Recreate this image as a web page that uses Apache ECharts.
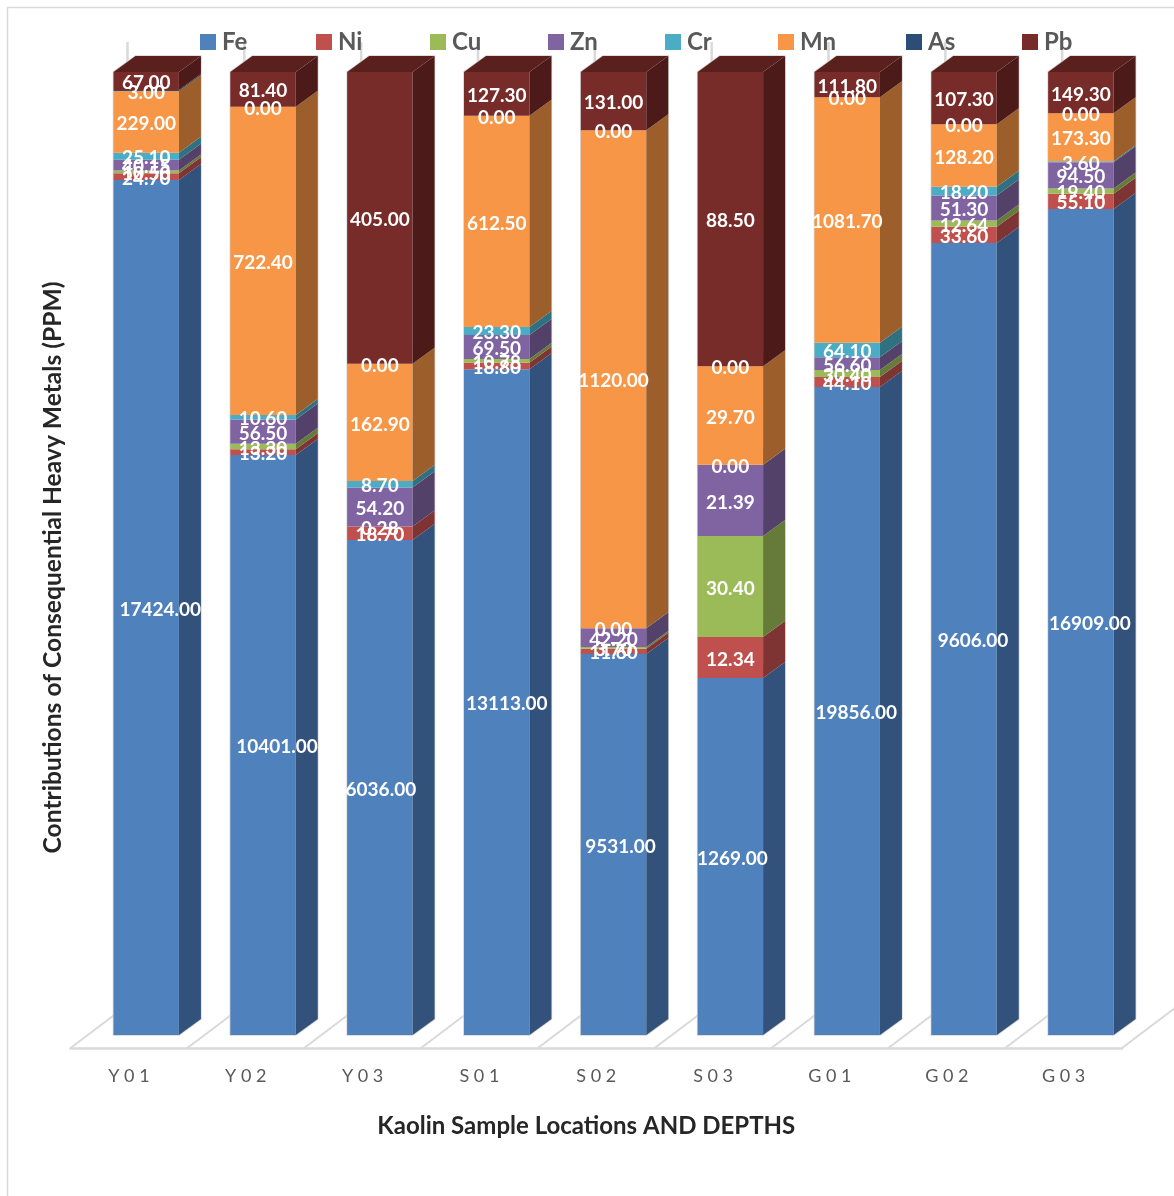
<!DOCTYPE html>
<html>
<head>
<meta charset="utf-8">
<style>html,body{margin:0;padding:0;background:#fff}#chart{width:1174px;height:1196px}</style>
<script src="https://cdn.jsdelivr.net/npm/echarts@6/dist/echarts.min.js"></script>
</head>
<body>
<div id="chart"></div>
<script>
// Kaolin heavy-metal contributions (PPM) per sample location and depth
const categories = ['Y01', 'Y02', 'Y03', 'S01', 'S02', 'S03', 'G01', 'G02', 'G03'];

// Printed Fe figures
const feLabels = [17424, 10401, 6036, 13113, 9531, 1269, 19856, 9606, 16909];
// Fe column heights: the printed Fe figures are not on the column scale, so the
// blue segments use these values and the labels above are shown as text only
const feHeights = [3162, 1359, 687, 1932, 857, 107.4, 2857, 1627, 2986];

const ni = [24.70, 13.20, 18.70, 18.80, 11.60, 12.34, 44.10, 33.60, 55.10];
const cu = [10.50, 13.30, 0.28, 10.78, 3.70, 30.40, 30.40, 12.64, 19.40];
const zn = [40.15, 56.50, 54.20, 69.50, 42.20, 21.39, 56.60, 51.30, 94.50];
const cr = [25.10, 10.60, 8.70, 23.30, 0, 0, 64.10, 18.20, 3.60];
const mn = [229.00, 722.40, 162.90, 612.50, 1120.00, 29.70, 1081.70, 128.20, 173.30];
const as = [3.00, 0, 0, 0, 0, 0, 0, 0, 0];
const pb = [67.00, 81.40, 405.00, 127.30, 131.00, 88.50, 111.80, 107.30, 149.30];

const metals = [
  { name: 'Fe', heights: feHeights, labels: feLabels, front: '#4F81BD', side: '#32527B', legendX: 200 },
  { name: 'Ni', heights: ni, labels: ni, front: '#C0504D', side: '#7D3432', legendX: 316 },
  { name: 'Cu', heights: cu, labels: cu, front: '#9BBB59', side: '#667A3A', legendX: 430 },
  { name: 'Zn', heights: zn, labels: zn, front: '#8064A2', side: '#534169', legendX: 548 },
  { name: 'Cr', heights: cr, labels: cr, front: '#4BACC6', side: '#2F7081', legendX: 665 },
  { name: 'Mn', heights: mn, labels: mn, front: '#F79646', side: '#9C5F2B', legendX: 778 },
  { name: 'As', heights: as, labels: as, front: '#2C4D75', side: '#1D324C', legendX: 906 },
  { name: 'Pb', heights: pb, labels: pb, front: '#772C2A', side: '#4C1A18', legendX: 1022 }
];

// Projection of the box bars
const BAR_RATIO = 0.56;
const BAR_SHIFT = 0.148;
const DEPTH_X = 22;
const DEPTH_Y = 16;
const FLOOR_X = 57;
const FLOOR_Y = 43;
const FLOOR_DROP = 13;
const WALL_TOP = 42;
const TOP_FACE = '#5A201E';
const LINE = '#D9D9D9';
// Sideways nudges of the Fe labels, per column
const feLabelShift = [14, 14, 1, 10, 7, 2, 9, 9, 9];

const totals = categories.map((_, c) => metals.reduce((s, m) => s + m.heights[c], 0));

function stackedData(index) {
  return categories.map((_, c) => {
    let below = 0;
    for (let k = 0; k < index; k++) below += metals[k].heights[c];
    const start = below / totals[c] * 100;
    const end = (below + metals[index].heights[c]) / totals[c] * 100;
    return [c, start, end];
  });
}

function renderSegment(index) {
  const metal = metals[index];
  return function (params, api) {
    const c = api.value(0);
    const band = api.size([1, 0])[0];
    const centre = api.coord([c, 0])[0] + band * BAR_SHIFT;
    const half = band * BAR_RATIO / 2;
    const x0 = centre - half;
    const x1 = centre + half;
    const yBase = api.coord([c, api.value(1)])[1];
    const yTop = api.coord([c, api.value(2)])[1];
    const children = [];
    if (yBase - yTop > 0) {
      children.push({
        type: 'polygon',
        shape: { points: [[x0, yBase], [x1, yBase], [x1, yTop], [x0, yTop]] },
        style: { fill: metal.front }
      });
      children.push({
        type: 'polygon',
        shape: { points: [[x1, yBase], [x1 + DEPTH_X, yBase - DEPTH_Y], [x1 + DEPTH_X, yTop - DEPTH_Y], [x1, yTop]] },
        style: { fill: metal.side }
      });
    }
    if (index === metals.length - 1) {
      children.push({
        type: 'polygon',
        shape: { points: [[x0, yTop], [x1, yTop], [x1 + DEPTH_X, yTop - DEPTH_Y], [x0 + DEPTH_X, yTop - DEPTH_Y]] },
        style: { fill: TOP_FACE }
      });
    }
    children.push({
      type: 'text',
      z2: 100,
      style: {
        x: centre + (index === 0 ? feLabelShift[c] : 0),
        y: (yBase + yTop) / 2 + 2,
        text: metal.labels[c].toFixed(2),
        fill: '#fff',
        font: 'bold 19px Lato',
        align: 'center',
        verticalAlign: 'middle'
      }
    });
    return { type: 'group', children };
  };
}

// Floor dividers, back-wall posts and the pale outline behind each bar
function renderFloor(params, api) {
  const c = api.value(0);
  const band = api.size([1, 0])[0];
  const yBase = api.coord([c, 0])[1];
  const yTop = api.coord([c, 100])[1];
  const yFront = yBase + FLOOR_DROP;
  const left = api.coord([c, 0])[0] - band / 2;
  const edges = c === categories.length - 1 ? [left, left + band] : [left];
  const children = [];
  edges.forEach((x) => {
    children.push({
      type: 'line',
      shape: { x1: x, y1: yFront, x2: x + FLOOR_X, y2: yFront - FLOOR_Y },
      style: { stroke: LINE, lineWidth: 2 }
    });
    children.push({
      type: 'line',
      shape: { x1: x + FLOOR_X, y1: yFront - FLOOR_Y, x2: x + FLOOR_X, y2: WALL_TOP },
      style: { stroke: LINE, lineWidth: 2.5 }
    });
  });
  const centre = api.coord([c, 0])[0] + band * BAR_SHIFT;
  const half = band * BAR_RATIO / 2;
  children.push({
    type: 'polygon',
    shape: {
      points: [
        [centre - half, yBase], [centre + half, yBase], [centre + half + DEPTH_X, yBase - DEPTH_Y],
        [centre + half + DEPTH_X, yTop - DEPTH_Y], [centre - half + DEPTH_X, yTop - DEPTH_Y], [centre - half, yTop]
      ]
    },
    style: { fill: '#fff', stroke: '#D4D4D4', lineWidth: 1.5 }
  });
  return { type: 'group', children };
}

const series = [{
  type: 'custom',
  name: 'floor',
  silent: true,
  z: 1,
  clip: false,
  renderItem: renderFloor,
  encode: { x: 0, y: 1 },
  data: categories.map((_, c) => [c, 0])
}].concat(metals.map((m, i) => ({
  type: 'custom',
  name: m.name,
  z: 2,
  clip: false,
  itemStyle: { color: m.front },
  renderItem: renderSegment(i),
  encode: { x: 0, y: [1, 2] },
  data: stackedData(i)
})));

const option = {
  animation: false,
  backgroundColor: '#fff',
  grid: { left: 70.5, right: 52, top: 72, bottom: 161 },
  legend: metals.map((m) => ({
    data: [m.name],
    left: m.legendX,
    top: 30,
    icon: 'rect',
    itemWidth: 16,
    itemHeight: 16,
    selectedMode: false,
    padding: 0,
    textStyle: { fontFamily: 'Lato', fontWeight: 'bold', fontSize: 24, color: '#595959', padding: [0, 0, 0, 1] }
  })),
  xAxis: {
    type: 'category',
    data: categories,
    offset: FLOOR_DROP,
    name: 'Kaolin Sample Locations AND DEPTHS',
    nameLocation: 'middle',
    nameGap: 66,
    nameTextStyle: { fontFamily: 'Lato', fontWeight: 'bold', fontSize: 24, color: '#262626', padding: [0, 20, 0, 0] },
    axisLine: { show: true, onZero: false, lineStyle: { color: LINE, width: 2.5 } },
    axisTick: { show: false },
    axisLabel: {
      margin: 19,
      fontFamily: 'Lato',
      fontSize: 18,
      color: '#595959',
      formatter: (v) => v.split('').join(' ')
    }
  },
  yAxis: {
    type: 'value',
    min: 0,
    max: 100,
    name: 'Contributions of Consequential Heavy Metals (PPM)',
    nameLocation: 'middle',
    nameGap: 5,
    nameTextStyle: { fontFamily: 'Lato', fontWeight: 'bold', fontSize: 24.6, color: '#262626', padding: [0, 28, 0, 0] },
    axisLine: { show: false },
    axisTick: { show: false },
    axisLabel: { show: false },
    splitLine: { show: false }
  },
  graphic: [
    { type: 'line', silent: true, shape: { x1: 7, y1: 7.5, x2: 1174, y2: 7.5 }, style: { stroke: LINE, lineWidth: 1.5 } },
    { type: 'line', silent: true, shape: { x1: 7.5, y1: 7, x2: 7.5, y2: 1196 }, style: { stroke: LINE, lineWidth: 1.5 } }
  ],
  series
};

const chart = echarts.init(document.getElementById('chart'), null, { renderer: 'canvas' });
chart.setOption(option);
</script>
</body>
</html>
